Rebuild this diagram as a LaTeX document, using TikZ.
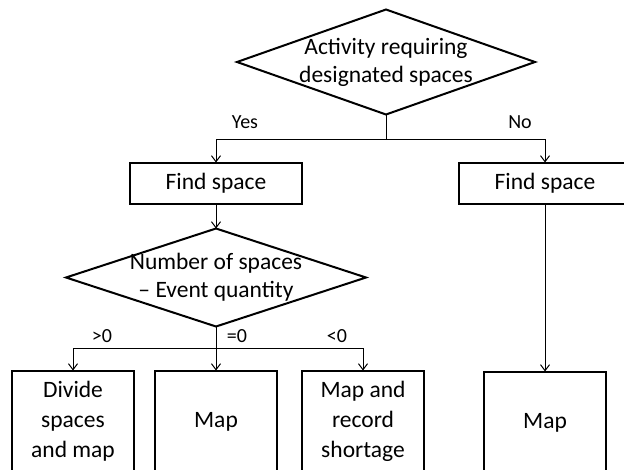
\documentclass[tikz,border=0pt]{standalone}
\usepackage{fontspec}
\setmainfont{Carlito}
\usetikzlibrary{arrows.meta, positioning, shapes.geometric}

\begin{document}
\begin{tikzpicture}[
  x=1pt, y=1pt,
  box/.style={rectangle, draw, line width=2pt, align=center, inner sep=0pt, outer sep=0pt,
    font=\fontsize{23.5}{30}\selectfont},
  decision/.style={diamond, draw, line width=2pt, inner sep=0pt, outer sep=0pt},
  inside/.style={align=center, inner sep=0pt, font=\fontsize{23.5}{28}\selectfont},
  lbl/.style={font=\fontsize{20}{24}\selectfont, inner sep=0pt},
  arr/.style={line width=1pt, -{Straight Barb[length=6pt, width=9pt]}},
  conn/.style={line width=1pt}
  ]
  \clip (0,0) rectangle (624,-469);

  \node[decision, minimum width=298pt, minimum height=105pt,
    label={[inside]center:{Activity requiring\\designated spaces}}] (act) at (386,-62) {};
  \node[box, minimum width=172pt, minimum height=41pt, below=48pt of act, xshift=-170pt] (find1) {Find space};
  \node[box, minimum width=172pt, minimum height=41pt, right=157pt of find1] (find2) {Find space};
  \node[decision, minimum width=300pt, minimum height=98pt, below=25pt of find1,
    label={[inside]center:{Number of spaces\\-- Event quantity}}] (count) {};
  \node[box, minimum width=122pt, minimum height=102pt, below=44pt of count] (map1) {Map};
  \node[box, minimum width=122pt, minimum height=102pt, left=21pt of map1] (divide) {Divide\\spaces\\and map};
  \node[box, minimum width=122pt, minimum height=102pt, right=25pt of map1] (record) {Map and\\record\\shortage};
  \node[box, minimum width=122pt, minimum height=102pt, below=168pt of find2] (map2) {Map};

  % first decision
  \draw[conn] (act.south) -- ++(0,-25) coordinate (fork1);
  \draw[arr] (fork1) -| (find1.north);
  \draw[arr] (fork1) -| (find2.north);
  \draw[arr] (find1) -- (count);
  \draw[arr] (find2) -- (map2);

  % second decision
  \draw[conn] (count.south) -- ++(0,-22) coordinate (fork2);
  \draw[arr] (fork2) -| (divide.north);
  \draw[arr] (fork2) -- (map1.north);
  \draw[arr] (fork2) -| (record.north);

  \node[lbl] at ([xshift=29pt, yshift=40pt]find1.north) {Yes};
  \node[lbl] at ([xshift=-25pt, yshift=40pt]find2.north) {No};
  \node[lbl] at ([xshift=29pt, yshift=34pt]divide.north) {>0};
  \node[lbl] at ([xshift=21pt, yshift=34pt]map1.north) {=0};
  \node[lbl] at ([xshift=-26pt, yshift=34pt]record.north) {<0};
\end{tikzpicture}
\end{document}
